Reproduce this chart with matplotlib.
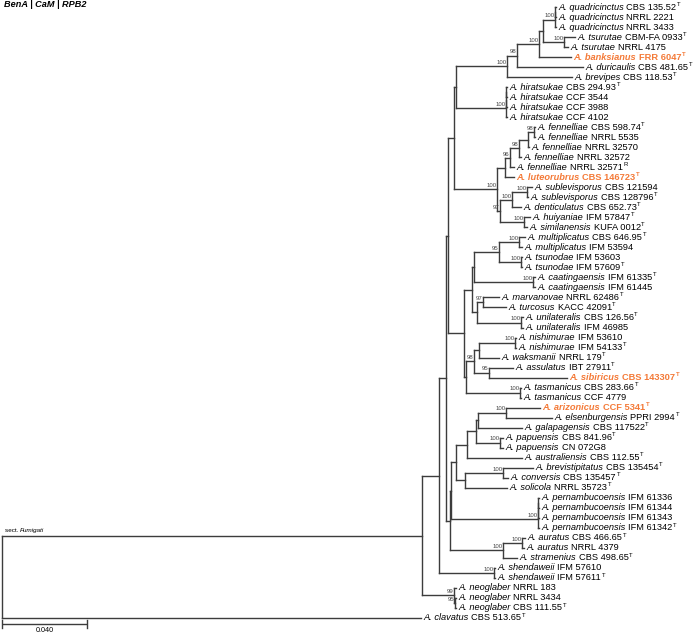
import matplotlib
matplotlib.use("Agg")
import matplotlib.pyplot as plt
from matplotlib.collections import LineCollection

plt.rcParams['font.family'] = ['Liberation Sans', 'DejaVu Sans']

# ---------------- tree data ----------------
# internal nodes: name, parent, depth (substitutions/site from root), bootstrap
node_name = ["R", "J", "K", "I", "H", "F", "E", "D", "C", "B", "A", "Qd2", "Qd1", "Ts",
             "Hi3", "Hi2", "Hi1", "G", "FL", "F2", "F3", "F4", "F5", "SD", "SDd", "Sl", "HS",
             "T", "U", "U1", "MTs", "Mu", "Tsn", "Ca", "V", "MT", "Un", "Z", "Y", "X1", "Ni",
             "AsSi", "Ta", "L", "L2", "Q", "P2", "P1", "AEG", "AE", "Pa", "BCS", "BC",
             "Pe3", "Pe2", "Pe1", "AS", "Au", "Sh", "N", "N2"]
node_parent = [None, "R", "J", "K", "I", "H", "F", "E", "D", "C", "B", "A", "Qd2", "A",
               "E", "Hi3", "Hi2", "F", "G", "FL", "F2", "F3", "F4", "G", "SD", "SDd", "SD",
               "H", "T", "U", "U1", "MTs", "MTs", "U1", "U", "V", "V", "T", "Z", "Y", "X1",
               "Y", "Z", "I", "L", "L2", "Q", "P2", "P1", "AEG", "P1", "Q", "BCS",
               "L2", "Pe3", "Pe2", "L", "AS", "K", "J", "N"]
node_depth = [0.0, 0.1976, 0.2056, 0.2089, 0.2099, 0.2127, 0.2136, 0.2376, 0.2424, 0.2527,
              0.2546, 0.2602, 0.2602, 0.2645,
              0.2372, 0.2372, 0.2372, 0.2329, 0.2367, 0.2391, 0.2433, 0.2475, 0.2504,
              0.2344, 0.2400, 0.2471, 0.2456,
              0.2176, 0.2212, 0.2219, 0.2339, 0.2433, 0.2442, 0.2499, 0.2235, 0.2264, 0.2442,
              0.2184, 0.2221, 0.2245, 0.2414, 0.2292, 0.2438,
              0.2108, 0.2115, 0.2136, 0.2188, 0.2231, 0.2240, 0.2372, 0.2344, 0.2179, 0.2358,
              0.2522, 0.2522, 0.2522, 0.2358, 0.2447, 0.2315, 0.2127, 0.2132]
node_support = ["", "", "", "", "", "", "", "100", "98", "100", "", "100", "", "100",
                "100", "", "", "100", "", "96", "98", "", "98", "97", "100", "100", "100",
                "", "", "", "95", "100", "100", "100", "", "97", "100", "", "98", "", "100",
                "95", "100", "", "", "", "", "", "", "100", "100", "", "100",
                "100", "", "", "100", "100", "100", "99", "95"]

# leaves (top to bottom)
taxa = ["quadricinctus"] * 3 + ["tsurutae"] * 2 + ["banksianus", "duricaulis", "brevipes"] + \
       ["hiratsukae"] * 4 + ["fennelliae"] * 5 + ["luteorubrus"] + ["sublevisporus"] * 2 + \
       ["denticulatus", "huiyaniae", "similanensis"] + ["multiplicatus"] * 2 + ["tsunodae"] * 2 + \
       ["caatingaensis"] * 2 + ["marvanovae", "turcosus"] + ["unilateralis"] * 2 + \
       ["nishimurae"] * 2 + ["waksmanii", "assulatus", "sibiricus"] + ["tasmanicus"] * 2 + \
       ["arizonicus", "elsenburgensis", "galapagensis"] + ["papuensis"] * 2 + \
       ["australiensis", "brevistipitatus", "conversis", "solicola"] + ["pernambucoensis"] * 4 + \
       ["auratus"] * 2 + ["stramenius"] + ["shendaweii"] * 2 + ["neoglaber"] * 3 + ["clavatus"]
strains = ["CBS 135.52", "NRRL 2221", "NRRL 3433", "CBM-FA 0933", "NRRL 4175", "FRR 6047",
           "CBS 481.65", "CBS 118.53", "CBS 294.93", "CCF 3544", "CCF 3988", "CCF 4102",
           "CBS 598.74", "NRRL 5535", "NRRL 32570", "NRRL 32572", "NRRL 32571", "CBS 146723",
           "CBS 121594", "CBS 128796", "CBS 652.73", "IFM 57847", "KUFA 0012",
           "CBS 646.95", "IFM 53594", "IFM 53603", "IFM 57609", "IFM 61335", "IFM 61445",
           "NRRL 62486", "KACC 42091", "CBS 126.56", "IFM 46985", "IFM 53610", "IFM 54133",
           "NRRL 179", "IBT 27911", "CBS 143307", "CBS 283.66", "CCF 4779",
           "CCF 5341", "PPRI 2994", "CBS 117522", "CBS 841.96", "CN 072G8", "CBS 112.55",
           "CBS 135454", "CBS 135457", "NRRL 35723", "IFM 61336", "IFM 61344", "IFM 61343",
           "IFM 61342", "CBS 466.65", "NRRL 4379", "CBS 498.65", "IFM 57610", "IFM 57611",
           "NRRL 183", "NRRL 3434", "CBS 111.55", "CBS 513.65"]
marks = ["T", "", "", "T", "", "T", "T", "T", "T", "", "", "",
         "T", "", "", "", "R", "T", "", "T", "T", "T", "T",
         "T", "", "", "T", "T", "", "T", "T", "T", "", "", "T",
         "T", "T", "T", "T", "", "T", "T", "T", "T", "", "T",
         "T", "T", "T", "", "", "", "T", "T", "", "T", "", "T",
         "", "", "T", "T"]
leaf_parent = ["Qd1", "Qd1", "Qd2", "Ts", "Ts", "B", "C", "D", "Hi1", "Hi1", "Hi2", "Hi3",
               "F5", "F5", "F4", "F3", "F2", "FL", "Sl", "Sl", "SDd", "HS", "HS",
               "Mu", "Mu", "Tsn", "Tsn", "Ca", "Ca", "MT", "MT", "Un", "Un", "Ni", "Ni",
               "X1", "AsSi", "AsSi", "Ta", "Ta", "AE", "AE", "AEG", "Pa", "Pa", "P2",
               "BC", "BC", "BCS", "Pe1", "Pe1", "Pe2", "Pe3", "Au", "Au", "AS", "Sh", "Sh",
               "N", "N2", "N2", "R"]
leaf_depth = [0.2605, 0.2605, 0.2605, 0.2696, 0.2664, 0.2678, 0.2734, 0.2682,
              0.2376, 0.2376, 0.2376, 0.2376, 0.2508, 0.2508, 0.2480, 0.2442, 0.2409, 0.2409,
              0.2494, 0.2475, 0.2442, 0.2485, 0.2471, 0.2461, 0.2447, 0.2447, 0.2447,
              0.2508, 0.2508, 0.2339, 0.2372, 0.2452, 0.2452, 0.2419, 0.2419, 0.2339,
              0.2405, 0.2659, 0.2442, 0.2442, 0.2532, 0.2588, 0.2447, 0.2358, 0.2358, 0.2447,
              0.2499, 0.2381, 0.2376, 0.2527, 0.2527, 0.2527, 0.2527, 0.2461, 0.2456, 0.2424,
              0.2320, 0.2320, 0.2136, 0.2136, 0.2136, 0.1972]
new_species = ["banksianus", "luteorubrus", "sibiricus", "arizonicus"]

title_text = "BenA | CaM | RPB2"
section_label = "Fumigati"
scale_value = 0.040

# ---------------- layout ----------------
PX = 2125.0          # pixels per unit of depth
LEAF_PX = 10.016     # pixels per leaf row
W, Hh = 693, 634

fig = plt.figure(figsize=(W / 100, Hh / 100), dpi=100)
ax = fig.add_axes([0, 0, 1, 1])
ax.set_xlim(-2 / PX, (W - 2) / PX)
ax.set_ylim((Hh - 7) / LEAF_PX, -7 / LEAF_PX)
ax.axis("off")

depth = dict(zip(node_name, node_depth))
support = dict(zip(node_name, node_support))
children = {n: [] for n in node_name}
for n, p in zip(node_name, node_parent):
    if p is not None:
        children[p].append(("n", n))
for i, p in enumerate(leaf_parent):
    children[p].append(("l", i))

min_leaf = {}
ypos = {}


def compute(n):
    kids = children[n]
    info = []
    for kind, k in kids:
        if kind == "l":
            info.append((k, float(k), leaf_depth[k]))
        else:
            compute(k)
            info.append((min_leaf[k], ypos[k], depth[k]))
    info.sort()
    children[n] = [(kk, inf) for kk, inf in sorted(zip(kids, info), key=lambda t: t[1][0])]
    min_leaf[n] = info[0][0]
    ypos[n] = (info[0][1] + info[-1][1]) / 2


compute("R")

segs = []
for n in node_name:
    kids = children[n]
    ys = [inf[1] for _, inf in kids]
    d = depth[n]
    segs.append([(d, ys[0]), (d, ys[-1])])
    for _, inf in kids:
        segs.append([(d, inf[1]), (inf[2], inf[1])])
ax.add_collection(LineCollection(segs, colors="#3c3c3c", linewidths=1.0,
                                 capstyle="projecting"))

# support values
for n in node_name:
    if support[n]:
        ax.text(depth[n] - 0.5 / PX, ypos[n] - 0.12, support[n], fontsize=4.3,
                color="#444444", ha="right", va="bottom")

# leaf labels
fig.canvas.draw()
renderer = fig.canvas.get_renderer()
inv = ax.transData.inverted()
orange = "#F47A38"
FS = 6.7
for i, (tx, st, mk) in enumerate(zip(taxa, strains, marks)):
    hl = tx in new_species
    col = orange if hl else "black"
    wt = "bold" if hl else "normal"
    x0 = leaf_depth[i] + 2.5 / PX
    t1 = ax.text(x0, i, "A. " + tx, fontsize=FS, style="italic", weight=wt, color=col,
                 ha="left", va="center")
    bb = t1.get_window_extent(renderer)
    x1 = inv.transform((bb.x1 + 2.6, 0))[0]
    t2 = ax.text(x1, i, st, fontsize=FS, weight=wt, color=col, ha="left", va="center")
    bb2 = t2.get_window_extent(renderer)
    if mk:
        x2 = inv.transform((bb2.x1 + 0.6, 0))[0]
        ax.text(x2, i - 0.28, mk, fontsize=4.3, weight=wt, color=col, ha="left",
                va="center")

# header
ax.text(2 / PX, 4.8 / LEAF_PX - 7 / LEAF_PX, title_text, fontsize=6.6, weight="bold",
        style="italic", ha="left", va="center")

# section label
ys_J = ypos["J"]
t = ax.text(3 / PX, ys_J - 0.25, "sect. ", fontsize=4.6, ha="left", va="bottom")
bb = t.get_window_extent(renderer)
ax.text(inv.transform((bb.x1, 0))[0], ys_J - 0.25, section_label, fontsize=4.6,
        style="italic", ha="left", va="bottom")

# scale bar
ysb = (624 - 7) / LEAF_PX
ax.plot([0, scale_value], [ysb, ysb], color="#3c3c3c", lw=1.0, solid_capstyle="butt")
ax.plot([scale_value, scale_value], [ysb - 0.35, ysb + 0.35], color="#3c3c3c", lw=1.0)
ax.plot([0, 0], [ysb - 0.35, ysb + 0.35], color="#3c3c3c", lw=1.0)
ax.text(scale_value / 2, (631 - 7) / LEAF_PX, f"{scale_value:.3f}", fontsize=5.2,
        ha="center", va="center")

fig.savefig("out.png", dpi=100)
